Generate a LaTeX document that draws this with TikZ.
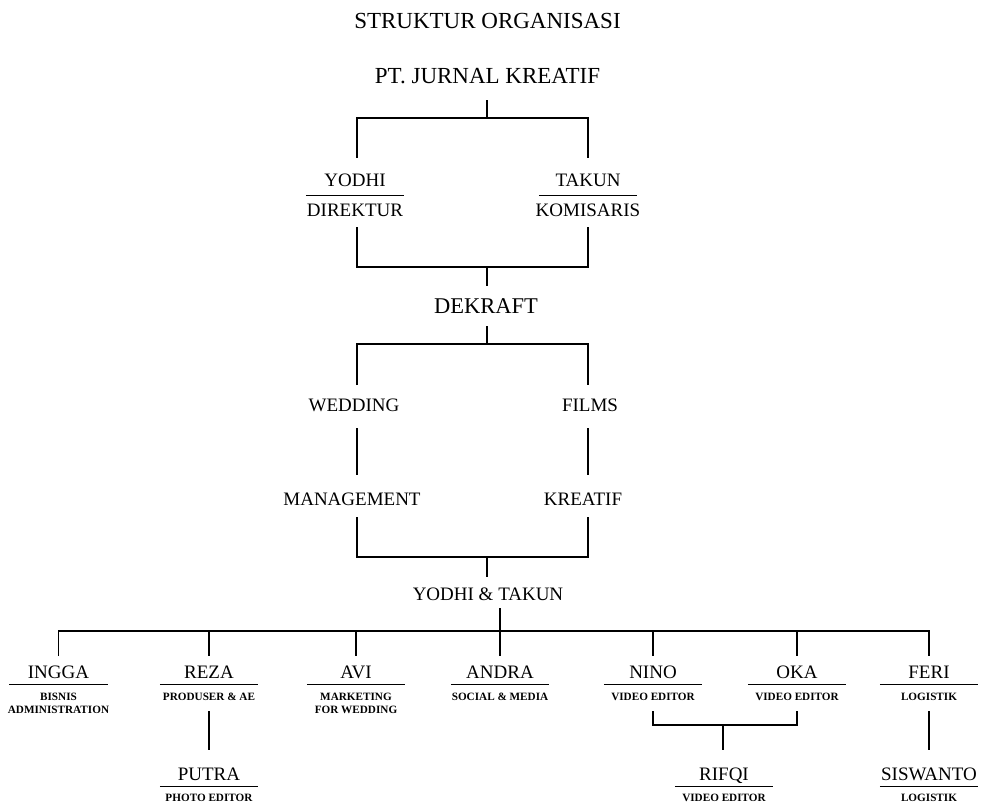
\documentclass[tikz,border=0pt]{standalone}
\usepackage{fontspec}
\setmainfont{Liberation Serif}
\usetikzlibrary{positioning}

\begin{document}
\begin{tikzpicture}[x=1pt,y=-1pt]
\tikzstyle{every node}=[inner sep=0pt,anchor=base];
\tikzstyle{cn}=[line width=1.3pt];
\tikzstyle{big}=[font=\fontsize{23}{23}\selectfont,text height=15pt,text depth=0pt];
\tikzstyle{unit}=[font=\fontsize{19}{19}\selectfont,text height=13pt,text depth=0pt];
\tikzstyle{nm}=[unit,minimum width=98pt,text depth=6pt,
  append after command={(\tikzlastnode.south west) edge[cn] (\tikzlastnode.south east)}];
\tikzstyle{role}=[font=\bfseries\fontsize{11.2}{13.3}\selectfont,align=center,anchor=north];
\useasboundingbox (0,0) rectangle (982,805);

\node[big] (title) at (487.5,28.3) {STRUKTUR ORGANISASI};
\node[big] (pt) at (487.5,83.3) {PT. JURNAL KREATIF};
\node[nm,text depth=9pt] (yodhi) at (355,186) {YODHI};
\node[nm,text depth=9pt] (takun) at (588,186) {TAKUN};
\node[unit,anchor=north,below=8.3pt of yodhi] (direktur) {DIREKTUR};
\node[unit,anchor=north,below=8.3pt of takun] (komisaris) {KOMISARIS};
\node[big,font=\fontsize{22.5}{22.5}\selectfont,text height=14.5pt] (dekraft) at (486,313) {DEKRAFT};
\node[unit] (wedding) at (354,411.7) {WEDDING};
\node[unit] (films) at (590,411.7) {FILMS};
\node[unit] (mgmt) at (352,505) {MANAGEMENT};
\node[unit] (kreatif) at (583,505) {KREATIF};
\node[unit] (owners) at (488,600) {YODHI \& TAKUN};

\node[nm] (ingga) at (58.5,678.3) {INGGA};
\node[role,below=8pt of ingga] (ingga-r) {BISNIS\\ADMINISTRATION};
\node[nm] (reza) at (209,678.3) {REZA};
\node[role,below=8pt of reza] (reza-r) {PRODUSER \& AE};
\node[nm] (avi) at (356,678.3) {AVI};
\node[role,below=8pt of avi] (avi-r) {MARKETING\\FOR WEDDING};
\node[nm] (andra) at (500,678.3) {ANDRA};
\node[role,below=8pt of andra] (andra-r) {SOCIAL \& MEDIA};
\node[nm] (nino) at (653,678.3) {NINO};
\node[role,below=8pt of nino] (nino-r) {VIDEO EDITOR};
\node[nm] (oka) at (797,678.3) {OKA};
\node[role,below=8pt of oka] (oka-r) {VIDEO EDITOR};
\node[nm] (feri) at (929,678.3) {FERI};
\node[role,below=8pt of feri] (feri-r) {LOGISTIK};
\node[nm] (putra) at (209,780) {PUTRA};
\node[role,below=8pt of putra] (putra-r) {PHOTO EDITOR};
\node[nm] (rifqi) at (724,780) {RIFQI};
\node[role,below=8pt of rifqi] (rifqi-r) {VIDEO EDITOR};
\node[nm] (siswanto) at (929,780) {SISWANTO};
\node[role,below=8pt of siswanto] (siswanto-r) {LOGISTIK};

\coordinate (L) at (357,0);
\coordinate (R) at (588,0);
\coordinate (fa) at (487,118);
\coordinate (fb) at (487,267);
\coordinate (fc) at (487,344);
\coordinate (fd) at (487,557);
\coordinate (fe) at (500,631);
\coordinate (ff) at (723,725);

\draw[cn,shorten <=16.7pt] (fa |- pt.south) -- (fa);
\draw[cn,shorten <=15pt,shorten >=15pt] (yodhi.north -| L) -- (L |- fa) -- (R |- fa) -- (takun.north -| R);
\draw[cn,shorten <=10.3pt,shorten >=10.3pt] (direktur.south -| L) -- (L |- fb) -- (R |- fb) -- (komisaris.south -| R);
\draw[cn,shorten >=12pt] (fb) -- (fb |- dekraft.north);
\draw[cn,shorten <=13pt] (fc |- dekraft.south) -- (fc);
\draw[cn,shorten <=13.3pt,shorten >=13.3pt] (wedding.north -| L) -- (L |- fc) -- (R |- fc) -- (films.north -| R);
\draw[cn,shorten <=16.3pt,shorten >=16.7pt] (wedding.south -| L) -- (mgmt.north -| L);
\draw[cn,shorten <=16.3pt,shorten >=16.7pt] (films.south -| R) -- (kreatif.north -| R);
\draw[cn,shorten <=12pt,shorten >=12pt] (mgmt.south -| L) -- (L |- fd) -- (R |- fd) -- (kreatif.south -| R);
\draw[cn,shorten >=9.7pt] (fd) -- (fd |- owners.north);
\draw[cn,shorten <=8pt,shorten >=9pt] (fe |- owners.south) -- (andra.north -| fe);
\draw[cn,shorten <=9pt,shorten >=9pt] (ingga.north) -- (ingga.north |- fe) -- (feri.north |- fe) -- (feri.north);
\draw[cn,shorten >=9pt] (reza.north |- fe) -- (reza.north);
\draw[cn,shorten >=9pt] (avi.north |- fe) -- (avi.north);
\draw[cn,shorten >=9pt] (nino.north |- fe) -- (nino.north);
\draw[cn,shorten >=9pt] (oka.north |- fe) -- (oka.north);
\draw[cn,shorten <=11pt,shorten >=16.7pt] (reza-r.south) -- (putra.north);
\draw[cn,shorten <=11pt,shorten >=16.7pt] (feri-r.south) -- (siswanto.north);
\draw[cn,shorten <=11pt,shorten >=11pt] (nino-r.south) -- (nino-r.south |- ff) -- (oka-r.south |- ff) -- (oka-r.south);
\draw[cn,shorten >=16.7pt] (ff) -- (ff |- rifqi.north);
\end{tikzpicture}
\end{document}
